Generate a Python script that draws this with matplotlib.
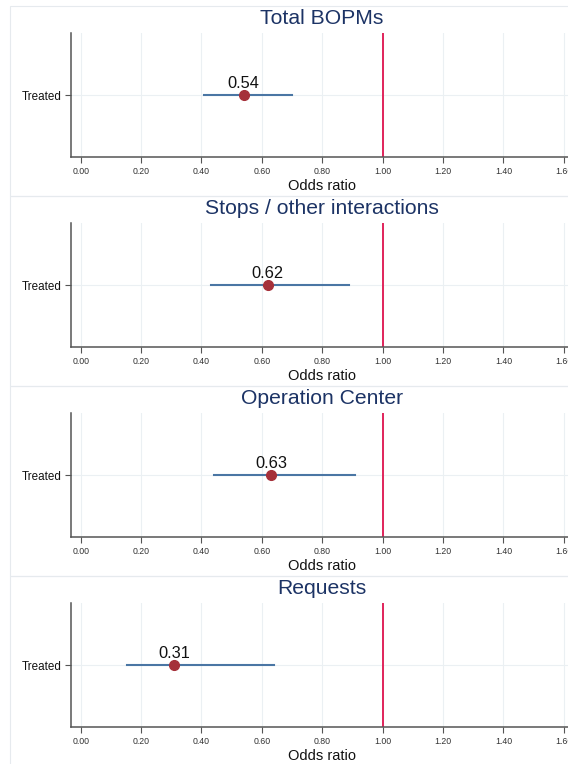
import numpy as np
import matplotlib
matplotlib.use("Agg")
from matplotlib import pyplot as plt
from matplotlib.patches import Rectangle

plt.rcParams['font.family'] = ['Liberation Sans', 'DejaVu Sans']

titles = ["Total BOPMs", "Stops / other interactions", "Operation Center", "Requests"]
odds = [0.54, 0.62, 0.63, 0.31]
ci_low = [0.41, 0.43, 0.44, 0.155]
ci_high = [0.70, 0.89, 0.91, 0.64]
xticks = [0.0, 0.2, 0.4, 0.6, 0.8, 1.0, 1.2, 1.4, 1.6]
row_label = "Treated"

W, H = 568, 764
fig = plt.figure(figsize=(W / 100, H / 100), dpi=100)
fig.patch.set_facecolor("white")

def fx(px):
    return px / W

def fy(py):
    return 1 - py / H

step = 190
ax_left, ax_right = 71, 594
for i, name in enumerate(titles):
    off = i * step
    # panel frame
    fig.patches.append(Rectangle((fx(10), fy(196 + off)), 1.2, (190) / H,
                                 transform=fig.transFigure, fill=False,
                                 edgecolor="#e6eaee", lw=0.8))
    ax = fig.add_axes([fx(ax_left), fy(157 + off), (ax_right - ax_left) / W, 124 / H])
    ax.set_xlim(-0.032, 1.7)
    ax.set_ylim(0, 2)
    ax.set_xticks(xticks)
    ax.set_xticklabels(["%.2f" % t for t in xticks], fontsize=6.3, color="#333333")
    ax.set_yticks([1])
    ax.set_yticklabels([row_label], fontsize=8.4, color="#111111")
    ax.tick_params(axis="both", direction="out", length=4, width=0.8, color="#555555", pad=3)
    for s in ["top", "right"]:
        ax.spines[s].set_visible(False)
    for s in ["left", "bottom"]:
        ax.spines[s].set_color("#555555")
        ax.spines[s].set_linewidth(1.1)
    ax.grid(True, color="#ebf0f3", lw=0.8)
    ax.set_axisbelow(True)

    ax.axvline(1.0, color="#e0245a", lw=1.4, zorder=2)
    ax.plot([ci_low[i], ci_high[i]], [1, 1], color="#4a76a4", lw=1.5, zorder=3)
    ax.plot(odds[i], 1, "o", color="#a5303a", markersize=7, zorder=4)
    ax.annotate("%.2f" % odds[i], (odds[i], 1), xytext=(0, 3), textcoords="offset points",
                ha="center", va="bottom", fontsize=11.8, color="#111111")

    ax.set_xlabel("Odds ratio", fontsize=10.5, color="#111111")
    ax.xaxis.set_label_coords((322 - ax_left) / (ax_right - ax_left), -0.175)
    fig.text(fx(322), fy(18 + off), name, ha="center", va="center",
             fontsize=15.2, color="#1c3365")

fig.savefig("out.png", dpi=100)
